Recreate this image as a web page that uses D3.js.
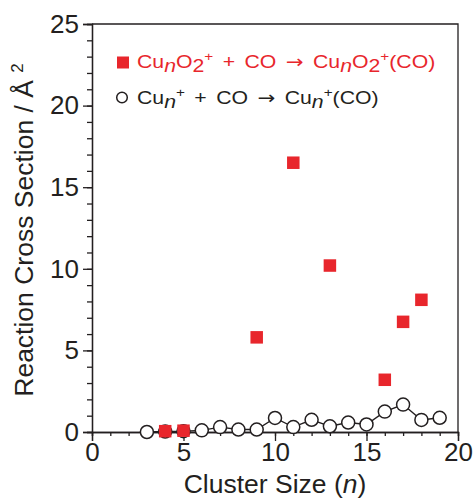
<!DOCTYPE html>
<html>
<head>
<meta charset="utf-8">
<script src="https://cdn.jsdelivr.net/npm/d3@7"></script>
<style>
  body { margin: 0; background: #fff; }
  svg { font-family: "Liberation Sans", Arial, sans-serif; }
</style>
</head>
<body>
<div id="chart"></div>
<script>
// Cun+ + CO (open circles, joined by a line)
const bareSizes = [3, 4, 5, 6, 7, 8, 9, 10, 11, 12, 13, 14, 15, 16, 17, 18, 19];
const bareValues = [0.0, 0.03, 0.05, 0.1, 0.3, 0.15, 0.15, 0.86, 0.3, 0.75, 0.35, 0.58, 0.46, 1.25, 1.68, 0.74, 0.87];

// CunO2+ + CO (filled squares)
const oxideSizes = [4, 5, 9, 11, 13, 16, 17, 18];
const oxideValues = [0.05, 0.08, 5.8, 16.5, 10.2, 3.2, 6.75, 8.1];

const xMajor = [0, 5, 10, 15, 20];
const yMajor = [0, 5, 10, 15, 20, 25];

const width = 475, height = 500;
const margin = {top: 24, right: 17, bottom: 68, left: 92};
const ink = "#231f20";
const red = "#e8262c";

const x = d3.scaleLinear().domain([0, 20]).range([margin.left, width - margin.right]);
const y = d3.scaleLinear().domain([0, 25]).range([height - margin.bottom, margin.top]);

const svg = d3.select("#chart").append("svg")
  .attr("width", width)
  .attr("height", height);

// frame (top and right)
svg.append("path")
  .attr("d", `M${x(0)},${y(25)}H${x(20)}V${y(0)}`)
  .attr("fill", "none")
  .attr("stroke", ink)
  .attr("stroke-width", 1.3);

function styleAxis(g) {
  g.select(".domain").attr("stroke", ink).attr("stroke-width", 1.3);
  g.selectAll(".tick line").attr("stroke", ink).attr("stroke-width", 1.3);
  g.selectAll(".tick text").attr("fill", ink).attr("font-size", 26);
}

// x axis: minor then major
svg.append("g")
  .attr("transform", `translate(0,${y(0)})`)
  .call(d3.axisBottom(x).tickValues(d3.range(0, 21)).tickSize(4).tickFormat(""))
  .call(styleAxis);
svg.append("g")
  .attr("transform", `translate(0,${y(0)})`)
  .call(d3.axisBottom(x).tickValues(xMajor).tickSize(9).tickPadding(2).tickFormat(d3.format("d")))
  .call(styleAxis);

// y axis
svg.append("g")
  .attr("transform", `translate(${x(0)},0)`)
  .call(d3.axisLeft(y).tickValues(d3.range(0, 26)).tickSize(5).tickFormat(""))
  .call(styleAxis);
svg.append("g")
  .attr("transform", `translate(${x(0)},0)`)
  .call(d3.axisLeft(y).tickValues(yMajor).tickSize(9).tickPadding(4).tickFormat(d3.format("d")))
  .call(styleAxis);

// axis titles
const xTitle = svg.append("text")
  .attr("x", (x(0) + x(20)) / 2)
  .attr("y", 493)
  .attr("text-anchor", "middle")
  .attr("font-size", 26.5)
  .attr("fill", ink);
xTitle.append("tspan").text("Cluster Size (");
xTitle.append("tspan").attr("font-style", "italic").text("n");
xTitle.append("tspan").text(")");

const yTitle = svg.append("text")
  .attr("transform", `translate(33,${(y(0) + y(25)) / 2 + 2}) rotate(-90)`)
  .attr("text-anchor", "middle")
  .attr("font-size", 26.5)
  .attr("fill", ink);
yTitle.append("tspan").text("Reaction Cross Section / Å ");
yTitle.append("tspan").attr("font-size", 17).attr("dy", -10).text("2");

// bare cluster series
const bare = bareSizes.map((n, i) => ({n, v: bareValues[i]}));
svg.append("path")
  .datum(bare)
  .attr("fill", "none")
  .attr("stroke", ink)
  .attr("stroke-width", 1.4)
  .attr("d", d3.line().x(d => x(d.n)).y(d => y(d.v)));

svg.append("g")
  .selectAll("circle")
  .data(bare)
  .join("circle")
    .attr("cx", d => x(d.n))
    .attr("cy", d => y(d.v))
    .attr("r", 6.5)
    .attr("fill", "#fff")
    .attr("stroke", ink)
    .attr("stroke-width", 1.5);

// oxide series
const sq = 12.5;
svg.append("g")
  .selectAll("rect")
  .data(oxideSizes.map((n, i) => ({n, v: oxideValues[i]})))
  .join("rect")
    .attr("x", d => x(d.n) - sq / 2)
    .attr("y", d => y(d.v) - sq / 2)
    .attr("width", sq)
    .attr("height", sq)
    .attr("fill", red);

// legend text with sub/superscripts
function richText(sel, parts) {
  let shift = 0;
  parts.forEach(p => {
    const s = p.shift || 0;
    sel.append("tspan")
      .attr("dy", s - shift)
      .attr("font-size", p.size || null)
      .attr("font-style", p.italic ? "italic" : null)
      .attr("font-family", p.arrow ? "DejaVu Sans" : null)
      .text(p.t);
    shift = s;
  });
}

function reaction(extra) {
  return [
    {t: "Cu"}, {t: "n", italic: true, shift: 3.5}, ...extra,
    {t: "+", shift: -7, size: 13}, {t: " + CO "}, {t: "\u2192", arrow: true}, {t: " Cu"},
    {t: "n", italic: true, shift: 3.5}, ...extra,
    {t: "+", shift: -7, size: 13}, {t: "(CO)"}
  ];
}

// the legend lettering is wider than the axis lettering
const legend = svg.append("g").attr("font-size", 18).attr("word-spacing", 3);

legend.append("rect")
  .attr("x", 117).attr("y", 56.5)
  .attr("width", 12).attr("height", 12)
  .attr("fill", red);
richText(legend.append("text").attr("transform", "translate(137,68) scale(1.18,1)").attr("fill", red),
  reaction([{t: "O"}, {t: "2", shift: 3.5}]));

legend.append("circle")
  .attr("cx", 122).attr("cy", 97.5).attr("r", 5.3)
  .attr("fill", "#fff").attr("stroke", ink).attr("stroke-width", 1.5);
richText(legend.append("text").attr("transform", "translate(137,104) scale(1.18,1)").attr("fill", ink),
  reaction([]));
</script>
</body>
</html>
